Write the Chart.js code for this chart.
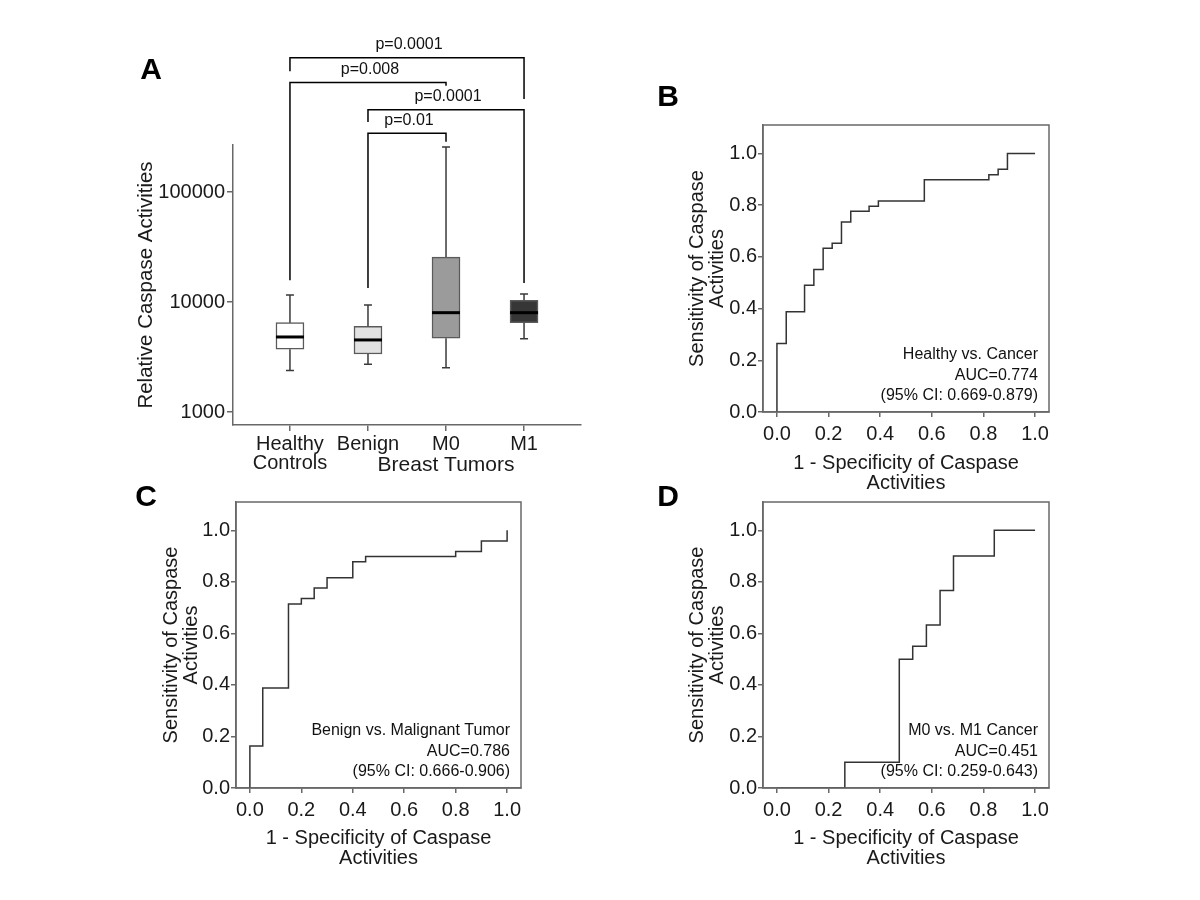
<!DOCTYPE html>
<html>
<head>
<meta charset="utf-8">
<title>Caspase activities - box plot and ROC curves</title>
<script src="https://cdn.jsdelivr.net/npm/chart.js@4.4.1/dist/chart.umd.min.js"></script>
<style>
  body { margin: 0; background: #fff; }
  #wrap { position: relative; width: 1200px; height: 900px; }
  #wrap canvas { position: absolute; left: 0; top: 0; }
</style>
</head>
<body>
<div id="wrap">
  <canvas id="panelA" width="1200" height="900"></canvas>
  <canvas id="panelB" width="1200" height="900"></canvas>
  <canvas id="panelC" width="1200" height="900"></canvas>
  <canvas id="panelD" width="1200" height="900"></canvas>
</div>
<script>
// ---- panel A: relative caspase activities (box plot, log axis) ----
const groups      = [["Healthy", "Controls"], "Benign", "M0", "M1"];
const groupPos    = [1, 2, 3, 4];
const whiskerLow  = [2390, 2720, 2530, 4640];
const boxLow      = [3720, 3370, 4680, 6490];
const medians     = [4810, 4520, 8000, 8000];
const boxHigh     = [6490, 6010, 25600, 10360];
const whiskerHigh = [11600, 9390, 256000, 11800];
const logTicks    = [1000, 10000, 100000];

// significance brackets: group index from / to and p label
const pFrom   = [0, 0, 1, 1];
const pTo     = [3, 2, 3, 2];
const pLabels = ["p=0.0001", "p=0.008", "p=0.0001", "p=0.01"];

// ---- ROC curves (1 - specificity, sensitivity) ----
const rocB_fpr = [0, 0, 0.036, 0.107, 0.143, 0.179, 0.214, 0.25, 0.286, 0.357, 0.393, 0.571, 0.821, 0.857, 0.893, 1.0];
const rocB_tpr = [0, 0.265, 0.388, 0.49, 0.551, 0.633, 0.653, 0.735, 0.776, 0.796, 0.816, 0.898, 0.918, 0.939, 1.0, 1.0];
const rocC_fpr = [0, 0, 0.05, 0.15, 0.2, 0.25, 0.3, 0.4, 0.45, 0.8, 0.9, 1.0];
const rocC_tpr = [0, 0.163, 0.388, 0.714, 0.735, 0.776, 0.816, 0.878, 0.898, 0.918, 0.959, 1.0];
const rocD_fpr = [0, 0.263, 0.474, 0.526, 0.579, 0.632, 0.684, 0.842, 1.0];
const rocD_tpr = [0, 0.1, 0.5, 0.55, 0.633, 0.767, 0.9, 1.0, 1.0];
const rocTicks = [0, 0.2, 0.4, 0.6, 0.8, 1.0];

const rocB_text = ["Healthy vs. Cancer", "AUC=0.774", "(95% CI: 0.669-0.879)"];
const rocC_text = ["Benign vs. Malignant Tumor", "AUC=0.786", "(95% CI: 0.666-0.906)"];
const rocD_text = ["M0 vs. M1 Cancer", "AUC=0.451", "(95% CI: 0.259-0.643)"];

window.onload = function(){
    const FONT = '"Liberation Sans", Arial, sans-serif';
    const AXIS = '#686868';
    Chart.defaults.font.family = FONT;
    Chart.defaults.color = '#1a1a1a';
    Chart.defaults.animation = false;
    Chart.defaults.responsive = false;
    Chart.defaults.devicePixelRatio = 1;
    Chart.defaults.plugins.legend.display = false;
    Chart.defaults.plugins.tooltip.enabled = false;

    // keep the axis boxes a fixed size so the plot areas line up like the figure
    function fixSize(w, h){
        return function(scale){
            if (w != null) scale.width = w;
            if (h != null) scale.height = h;
        }
    }

    const panelLetter = {
        id: 'panelLetter',
        afterDraw(chart, args, opts){
            const ctx = chart.ctx;
            ctx.save();
            ctx.font = 'bold 30px ' + FONT;
            ctx.fillStyle = '#000';
            ctx.textAlign = 'center';
            ctx.textBaseline = 'middle';
            ctx.fillText(opts.text, opts.x, opts.y);
            ctx.restore();
        }
    };

    // whiskers, medians, brackets and group label for the box plot
    const boxExtras = {
        id: 'boxExtras',
        afterDraw(chart){
            const ctx = chart.ctx;
            const x = chart.scales.x, y = chart.scales.y;
            const bars = chart.getDatasetMeta(0).data;
            ctx.save();
            groupPos.forEach(function(g, i){
                const px = x.getPixelForValue(g);
                const half = bars[i].width / 2;
                ctx.strokeStyle = '#3a3a3a';
                ctx.lineWidth = 1.5;
                ctx.beginPath();
                ctx.moveTo(px, y.getPixelForValue(boxHigh[i]));
                ctx.lineTo(px, y.getPixelForValue(whiskerHigh[i]));
                ctx.moveTo(px - 4, y.getPixelForValue(whiskerHigh[i]));
                ctx.lineTo(px + 4, y.getPixelForValue(whiskerHigh[i]));
                ctx.moveTo(px, y.getPixelForValue(boxLow[i]));
                ctx.lineTo(px, y.getPixelForValue(whiskerLow[i]));
                ctx.moveTo(px - 4, y.getPixelForValue(whiskerLow[i]));
                ctx.lineTo(px + 4, y.getPixelForValue(whiskerLow[i]));
                ctx.stroke();
                ctx.strokeStyle = '#000';
                ctx.lineWidth = 3;
                ctx.beginPath();
                ctx.moveTo(px - half, y.getPixelForValue(medians[i]));
                ctx.lineTo(px + half, y.getPixelForValue(medians[i]));
                ctx.stroke();
            });

            // bracket levels on the (log) value axis: top bar, left leg end, right leg end
            const levels = [
                [1.66e6, 1.25e6, 7.0e5],
                [9.9e5, 15800, 9.25e5],
                [5.6e5, 4.33e5, 14900],
                [3.42e5, 13400, 2.86e5]
            ];
            ctx.strokeStyle = '#000';
            ctx.lineWidth = 1.5;
            ctx.fillStyle = '#111';
            ctx.font = '16px ' + FONT;
            ctx.textAlign = 'center';
            ctx.textBaseline = 'middle';
            pLabels.forEach(function(label, k){
                const x1 = x.getPixelForValue(groupPos[pFrom[k]]);
                const x2 = x.getPixelForValue(groupPos[pTo[k]]);
                const top = y.getPixelForValue(levels[k][0]);
                ctx.beginPath();
                ctx.moveTo(x1, y.getPixelForValue(levels[k][1]));
                ctx.lineTo(x1, top);
                ctx.lineTo(x2, top);
                ctx.lineTo(x2, y.getPixelForValue(levels[k][2]));
                ctx.stroke();
                ctx.fillText(label, (x1 + x2) / 2 + 2, top - 13);
            });

            ctx.font = '21px ' + FONT;
            ctx.fillStyle = '#1a1a1a';
            const mid = (x.getPixelForValue(groupPos[1]) + x.getPixelForValue(groupPos[3])) / 2;
            ctx.fillText('Breast Tumors', mid, x.top + 40);
            ctx.restore();
        }
    };

    new Chart(document.getElementById('panelA'), {
        type: 'bar',
        data: {
            datasets: [{
                data: groupPos.map(function(g, i){ return {x: g, y: [boxLow[i], boxHigh[i]]}; }),
                backgroundColor: ['#ffffff', '#e2e2e2', '#9b9b9b', '#363636'],
                borderColor: '#5a5a5a',
                borderWidth: 1.5,
                borderSkipped: false,
                barThickness: 28
            }]
        },
        options: {
            layout: { padding: { left: 130, top: 145, right: 619, bottom: 415 } },
            scales: {
                x: {
                    type: 'linear', min: 0.27, max: 4.73, offset: false,
                    afterFit: fixSize(null, 60),
                    afterBuildTicks: function(s){ s.ticks = groupPos.map(function(v){ return {value: v}; }); },
                    ticks: {
                        callback: function(v, i){ return groups[i]; },
                        font: { size: 20, lineHeight: 0.95 }, padding: 4, maxRotation: 0, autoSkip: false
                    },
                    grid: { drawOnChartArea: false, offset: false, tickLength: 6, color: AXIS, lineWidth: 1.5 },
                    border: { color: AXIS, width: 1.5 }
                },
                y: {
                    type: 'logarithmic', min: 762, max: 267500,
                    afterFit: fixSize(103, null),
                    afterBuildTicks: function(s){ s.ticks = logTicks.map(function(v){ return {value: v}; }); },
                    ticks: { callback: function(v){ return String(v); }, font: { size: 20 }, padding: 2 },
                    grid: { drawOnChartArea: false, tickLength: 6, color: AXIS, lineWidth: 1.5 },
                    border: { color: AXIS, width: 1.5 },
                    title: { display: true, text: 'Relative Caspase Activities',
                             font: { size: 20.5, lineHeight: 1.05 }, padding: { top: 6, bottom: 0 } }
                }
            },
            plugins: { panelLetter: { text: 'A', x: 151, y: 71 } }
        },
        plugins: [boxExtras, panelLetter]
    });

    // frame and AUC annotation for the ROC panels
    const rocExtras = {
        id: 'rocExtras',
        afterDraw(chart, args, opts){
            const ctx = chart.ctx;
            const a = chart.chartArea;
            ctx.save();
            ctx.strokeStyle = AXIS;
            ctx.lineWidth = 1.5;
            ctx.strokeRect(a.left, a.top, a.right - a.left, a.bottom - a.top);
            ctx.font = '16px ' + FONT;
            ctx.fillStyle = '#111';
            ctx.textAlign = 'right';
            ctx.textBaseline = 'middle';
            opts.lines.forEach(function(t, i){
                ctx.fillText(t, a.right - 11, a.bottom - 57 + i * 20.5);
            });
            ctx.restore();
        }
    };

    function rocChart(id, fpr, tpr, lines, box, letter){
        return new Chart(document.getElementById(id), {
            type: 'line',
            data: {
                datasets: [{
                    data: fpr.map(function(v, i){ return {x: v, y: tpr[i]}; }),
                    borderColor: '#333',
                    borderWidth: 1.5,
                    pointRadius: 0,
                    stepped: 'before',
                    fill: false
                }]
            },
            options: {
                layout: { padding: box.pad },
                scales: {
                    x: {
                        type: 'linear', min: -0.054, max: 1.054,
                        afterFit: fixSize(null, box.xh),
                        afterBuildTicks: function(s){ s.ticks = rocTicks.map(function(v){ return {value: v}; }); },
                        ticks: { callback: function(v){ return v.toFixed(1); }, font: { size: 20 }, padding: 5, maxRotation: 0 },
                        grid: { drawOnChartArea: false, tickLength: 5, color: AXIS, lineWidth: 1.5 },
                        border: { color: AXIS, width: 1.5 },
                        title: { display: true, text: ['1 - Specificity of Caspase', 'Activities'],
                                 font: { size: 20, lineHeight: 1.0 }, padding: { top: 0, bottom: 4 } }
                    },
                    y: {
                        type: 'linear', min: 0, max: 1.11,
                        afterFit: fixSize(box.yw, null),
                        afterBuildTicks: function(s){ s.ticks = rocTicks.map(function(v){ return {value: v}; }); },
                        ticks: { callback: function(v){ return v.toFixed(1); }, font: { size: 20 }, padding: 1 },
                        grid: { drawOnChartArea: false, tickLength: 5, color: AXIS, lineWidth: 1.5 },
                        border: { color: AXIS, width: 1.5 },
                        title: { display: true, text: ['Sensitivity of Caspase', 'Activities'],
                                 font: { size: 20, lineHeight: 1.0 }, padding: { top: 7, bottom: 0 } }
                    }
                },
                plugins: { rocExtras: { lines: lines }, panelLetter: letter }
            },
            plugins: [rocExtras, panelLetter]
        });
    }

    rocChart('panelB', rocB_fpr, rocB_tpr, rocB_text,
        { pad: { left: 680, top: 125, right: 151, bottom: 403 }, yw: 83, xh: 85 },
        { text: 'B', x: 668, y: 98 });
    rocChart('panelC', rocC_fpr, rocC_tpr, rocC_text,
        { pad: { left: 154, top: 502, right: 679, bottom: 28 }, yw: 82, xh: 84 },
        { text: 'C', x: 146, y: 498 });
    rocChart('panelD', rocD_fpr, rocD_tpr, rocD_text,
        { pad: { left: 680, top: 502, right: 151, bottom: 28 }, yw: 83, xh: 84 },
        { text: 'D', x: 668, y: 498 });
}
</script>
</body>
</html>
